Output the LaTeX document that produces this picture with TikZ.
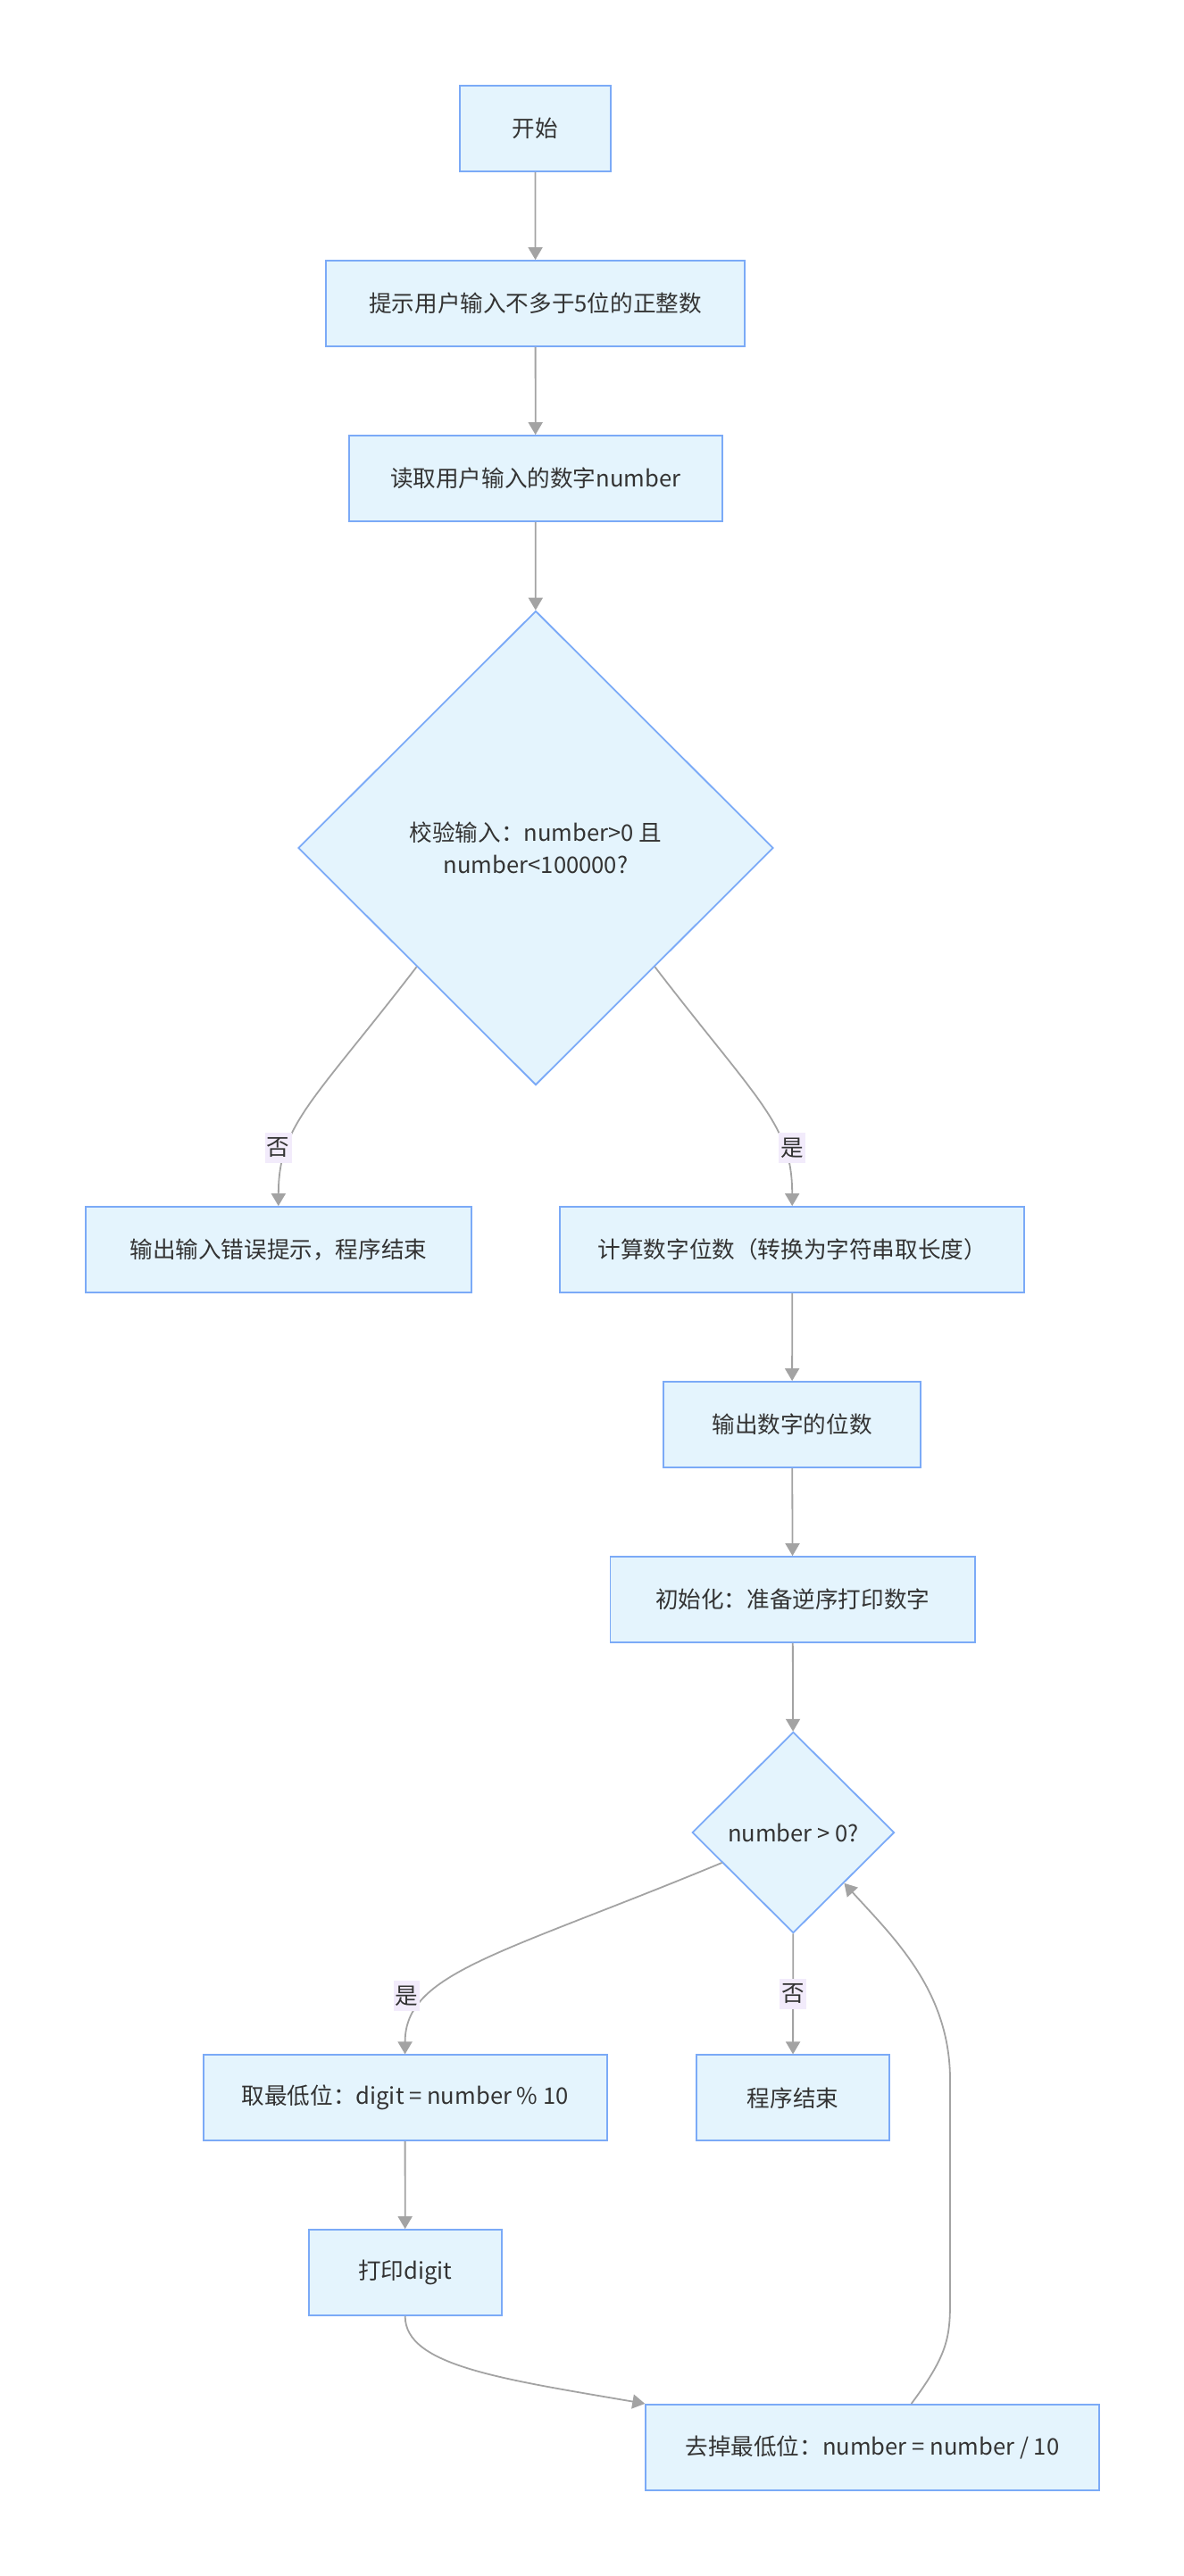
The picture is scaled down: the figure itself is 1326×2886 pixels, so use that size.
\documentclass[tikz,border=0pt]{standalone}
\usepackage{fontspec}
\setmainfont{Noto Sans CJK SC}
\usetikzlibrary{shapes.geometric,arrows.meta}
\definecolor{boxfill}{HTML}{E4F4FD}
\definecolor{boxline}{HTML}{7BAAF7}
\definecolor{linkcol}{HTML}{A3A3A3}
\definecolor{lblfill}{HTML}{F2EBFB}
\definecolor{txt}{HTML}{333333}
\begin{document}
\begin{tikzpicture}[x=0.5pt,y=-0.5pt,>={Triangle[width=8pt,length=7pt,fill=linkcol]},
  font=\fontsize{12.8pt}{18pt}\selectfont,
  box/.style={draw=boxline,fill=boxfill,line width=0.9pt,text=txt,minimum height=48pt,inner sep=0pt},
  decision/.style={diamond,draw=boxline,fill=boxfill,line width=0.9pt,text=txt,inner sep=0pt,align=center},
  link/.style={->,draw=linkcol,line width=0.9pt},
  lbl/.style={fill=lblfill,text=txt,inner xsep=1pt,inner ysep=3pt}]
\useasboundingbox (0,0) rectangle (1326,2886);

\node[box,minimum width=84.4pt] (start) at (599.5,144) {开始};
\node[box,minimum width=234.5pt] (prompt) at (599.6,340) {提示用户输入不多于5位的正整数};
\node[box,minimum width=209pt] (read) at (599.7,536) {读取用户输入的数字number};
\node[decision,minimum width=266pt,minimum height=265.6pt] (check) at (600,950) {校验输入：number>0 且\\number<100000?};

\node[box,minimum width=215.8pt] (err) at (311.8,1400) {输出输入错误提示，程序结束};
\node[box,minimum width=260pt] (len) at (887.2,1400) {计算数字位数（转换为字符串取长度）};
\node[box,minimum width=144pt] (outlen) at (887.1,1596) {输出数字的位数};
\node[box,minimum width=204.3pt] (init) at (887.7,1792) {初始化：准备逆序打印数字};
\node[decision,minimum width=113.2pt,minimum height=112.6pt] (loop) at (888.4,2053) {number > 0?};

\node[box,minimum width=226pt] (take) at (453.6,2350.3) {取最低位：digit = number \% 10};
\node[box,minimum width=108pt] (end) at (888,2350.3) {程序结束};
\node[box,minimum width=108pt] (print) at (453.7,2546) {打印digit};
\node[box,minimum width=253.7pt] (drop) at (976.9,2741.8) {去掉最低位：number = number / 10};

\path[link] (start) -- (prompt);
\path[link] (prompt) -- (read);
\path[link] (read) -- (check);
\path[link] (check.south west) .. controls (350,1235) and (312,1260) .. node[lbl,pos=0.72,xshift=-5pt]{否} (err.north);
\path[link] (check.south east) .. controls (850,1235) and (887.2,1260) .. node[lbl,pos=0.72,xshift=4.8pt]{是} (len.north);
\path[link] (len) -- (outlen);
\path[link] (outlen) -- (init);
\path[link] (init) -- (loop);
\path[link] (loop.203) .. controls (560,2190) and (453.6,2210) .. node[lbl,pos=0.71,xshift=-13pt]{是} (take.north);
\path[link] (loop) -- node[lbl]{否} (end);
\path[link] (take) -- (print);
\path[link] (print.south) .. controls (453.7,2650) and (560,2665) .. (drop.north west);
\path[link] ([xshift=21.9pt]drop.north) .. controls (1060,2640) and (1064,2620) .. (1064,2580)
  -- (1064,2330) .. controls (1064,2230) and (1000,2170) .. (loop.south east);
\end{tikzpicture}
\end{document}
